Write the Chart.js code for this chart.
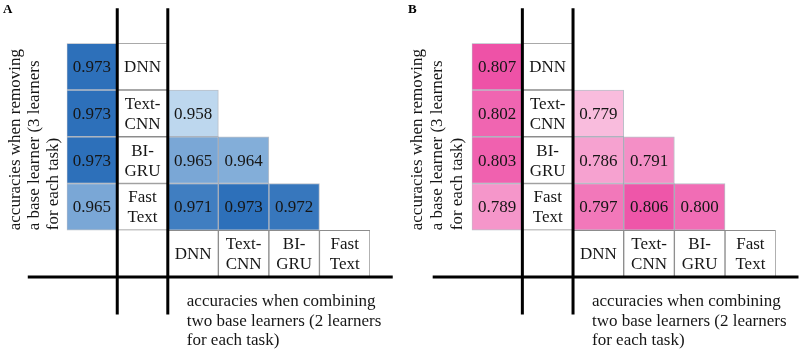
<!DOCTYPE html>
<html><head><meta charset="utf-8">
<script src="https://cdn.jsdelivr.net/npm/chart.js@4"></script>
<style>
html,body{margin:0;padding:0;background:#fff;}
#wrap{display:flex;width:800px;height:352px;}
canvas{display:block;}
</style></head><body>
<div id="wrap"><canvas id="cA" width="400" height="352"></canvas><canvas id="cB" width="400" height="352"></canvas></div>
<script>
// ---- data ----
const columns = ['remove', 'name', 'DNN', 'Text-CNN', 'BI-GRU', 'FastText'];
const learners = ['DNN', 'Text-CNN', 'BI-GRU', 'FastText'];
const learnerLabels = [['DNN'], ['Text-', 'CNN'], ['BI-', 'GRU'], ['Fast', 'Text']];
const removeOneA = [0.973, 0.973, 0.973, 0.965];
const removeOneB = [0.807, 0.802, 0.803, 0.789];
const pairsA = [[], [0.958], [0.965, 0.964], [0.971, 0.973, 0.972]];
const pairsB = [[], [0.779], [0.786, 0.791], [0.797, 0.806, 0.800]];
const yTitle = ['accuracies when removing', 'a base learner (3 learners', 'for each task)'];
const xTitle = ['accuracies when combining', 'two base learners (2 learners', 'for each task)'];
const panelLetters = ['A', 'B'];

// ---- helpers ----
const FONT = '17px "Liberation Serif", "Times New Roman", serif';
const TEXT = '#161616';

function buildCells(removeOne, pairs) {
  const cells = [];
  learners.forEach((name, i) => {
    cells.push({x: 'remove', y: [i, i + 1], v: removeOne[i]});
    pairs[i].forEach((v, j) => cells.push({x: learners[j], y: [i, i + 1], v}));
  });
  learners.forEach((name, i) => {
    cells.push({x: 'name', y: [i, i + 1], lines: learnerLabels[i]});
    cells.push({x: name, y: [learners.length, learners.length + 1], lines: learnerLabels[i]});
  });
  return cells;
}

function makeShade(values, cLo, cHi) {
  const lo = Math.min(...values), hi = Math.max(...values);
  return (v) => {
    const t = Math.max(0, Math.min(1, (v - lo) / (hi - lo)));
    return 'rgb(' + cLo.map((c, k) => Math.round(c + (cHi[k] - c) * t)).join(',') + ')';
  };
}

const decor = {
  id: 'decor',
  afterDatasetsDraw(chart, args, opts) {
    const ctx = chart.ctx;
    const meta = chart.getDatasetMeta(0);
    ctx.save();
    ctx.font = FONT;
    ctx.fillStyle = TEXT;
    ctx.textAlign = 'center';
    ctx.textBaseline = 'middle';
    meta.data.forEach((el, i) => {
      const raw = chart.data.datasets[0].data[i];
      const p = el.getProps(['x', 'y', 'base'], true);
      const cy = (p.y + p.base) / 2;
      const lines = raw.lines ? raw.lines : [raw.v.toFixed(3)];
      const lh = 20;
      lines.forEach((ln, k) => {
        ctx.fillText(ln, p.x, cy + (k - (lines.length - 1) / 2) * lh + 1);
      });
    });
    ctx.restore();
  },
  afterDraw(chart, args, opts) {
    const ctx = chart.ctx;
    const xs = chart.scales.x, ys = chart.scales.y, area = chart.chartArea;
    // divider lines
    ctx.save();
    ctx.strokeStyle = '#000';
    ctx.lineWidth = 3;
    ctx.beginPath();
    opts.vLines.forEach(c => {
      const px = xs.getPixelForValue(c);
      ctx.moveTo(px, ys.getPixelForValue(opts.vFrom));
      ctx.lineTo(px, ys.getPixelForValue(opts.vTo));
    });
    const py = ys.getPixelForValue(opts.hLine);
    ctx.moveTo(xs.getPixelForValue(opts.hFrom), py);
    ctx.lineTo(xs.getPixelForValue(opts.hTo), py);
    ctx.stroke();
    ctx.restore();
    // axis titles
    ctx.save();
    ctx.font = FONT;
    ctx.fillStyle = TEXT;
    ctx.textBaseline = 'middle';
    ctx.textAlign = 'left';
    const yStart = ys.getPixelForValue(learners.length);
    yTitle.forEach((ln, k) => {
      ctx.save();
      ctx.translate(area.left + opts.yTitleOffsets[k], yStart);
      ctx.rotate(-Math.PI / 2);
      ctx.fillText(ln, 0, 0);
      ctx.restore();
    });
    const xStart = xs.getPixelForValue(opts.vLines[1]) + opts.xTitleIndent;
    xTitle.forEach((ln, k) => {
      ctx.fillText(ln, xStart, area.bottom + opts.xTitleOffsets[k]);
    });
    // panel letter
    ctx.font = 'bold 13px "Liberation Serif", "Times New Roman", serif';
    ctx.fillStyle = '#000';
    ctx.textBaseline = 'alphabetic';
    ctx.fillText(opts.letter, opts.letterX, 13);
    ctx.restore();
  }
};

function makeChart(canvasId, letter, removeOne, pairs, cLo, cHi, padding, letterX, yOffsets) {
  const allValues = removeOne.concat(...pairs);
  const shade = makeShade(allValues, cLo, cHi);
  return new Chart(document.getElementById(canvasId), {
    type: 'bar',
    data: {
      labels: columns,
      datasets: [{
        data: buildCells(removeOne, pairs),
        backgroundColor: (c) => c.raw && c.raw.lines ? '#ffffff' : shade(c.raw ? c.raw.v : 0),
        borderColor: (c) => c.raw && c.raw.lines ? '#8c8c8c' : 'rgba(10,30,60,0.28)',
        borderWidth: 1,
        borderSkipped: false,
        categoryPercentage: 1,
        barPercentage: 1
      }]
    },
    options: {
      responsive: false,
      devicePixelRatio: 1,
      animation: false,
      layout: {padding},
      plugins: {
        legend: {display: false},
        tooltip: {enabled: false},
        decor: {
          letter, letterX,
          vLines: [0.5, 1.5], vFrom: -0.75, vTo: 5.8,
          hLine: 5, hFrom: -1.27, hTo: 5.95,
          yTitleOffsets: yOffsets,
          xTitleIndent: 19,
          xTitleOffsets: [25, 44.5, 64]
        }
      },
      scales: {
        x: {type: 'category', display: false, offset: true},
        y: {type: 'linear', display: false, min: 0, max: 5, reverse: true}
      }
    },
    plugins: [decor]
  });
}

makeChart('cA', panelLetters[0], removeOneA, pairsA, [189, 215, 238], [45, 112, 186],
  {left: 66.7, right: 30, top: 43.3, bottom: 75}, 3, [-51, -32, -13]);
makeChart('cB', panelLetters[1], removeOneB, pairsB, [249, 188, 221], [238, 82, 167],
  {left: 71.7, right: 24.3, top: 43.3, bottom: 75}, 8, [-54, -34, -14]);
</script>
</body></html>
